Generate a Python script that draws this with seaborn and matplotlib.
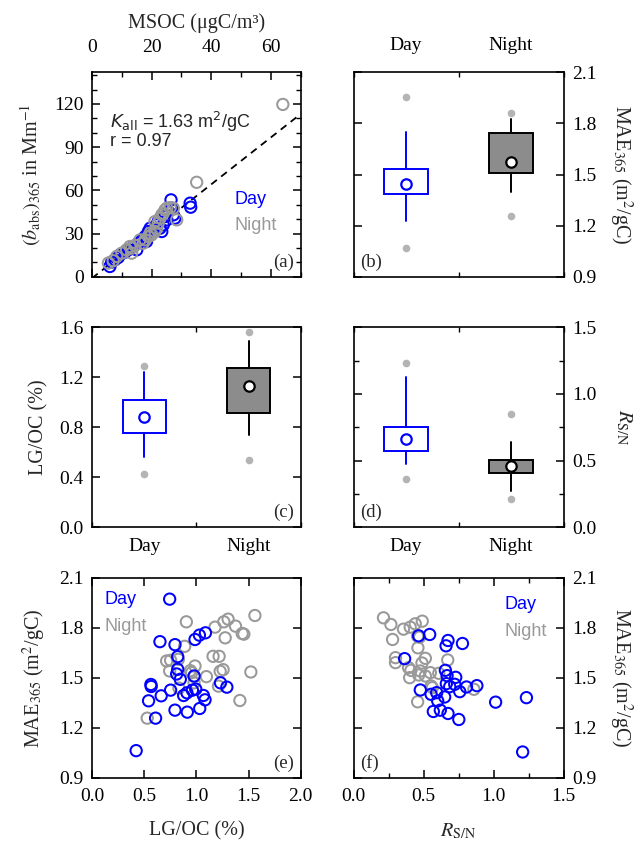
import numpy as np
import pandas as pd
import seaborn as sns
import matplotlib
matplotlib.use('Agg')
from matplotlib import pyplot as plt
from matplotlib.ticker import MultipleLocator, FixedLocator

# ---- data ----
# (a) absorption vs MSOC
day_msoc = [6.0, 6.6, 7.7, 8.8, 9.4, 11.1, 12.2, 13.9, 15.0, 15.5, 16.7, 17.8, 18.3, 18.9, 19.5,
            20.6, 21.7, 22.2, 22.8, 23.4, 23.9, 24.5, 25.1, 25.6, 26.5, 26.7, 27.3, 27.8, 32.9, 33.1]
day_babs = [7.1, 10.2, 11.8, 13.4, 15.2, 17.1, 18.7, 21.0, 18.7, 23.3, 25.6, 27.9, 24.5, 31.4, 33.7,
            32.6, 36.0, 38.3, 33.7, 31.4, 36.0, 41.8, 39.5, 45.3, 53.4, 47.6, 43.0, 40.7, 51.1, 48.3]
night_msoc = [5.5, 7.1, 8.3, 10.0, 11.6, 12.7, 13.3, 13.3, 14.4, 16.1, 17.2, 17.8, 18.9, 19.5, 20.0,
              21.1, 21.1, 21.7, 22.2, 22.8, 23.4, 23.9, 24.5, 25.1, 26.2, 27.3, 28.4, 35.1, 64.0]
night_babs = [9.5, 11.1, 14.1, 16.4, 18.7, 21.0, 19.9, 16.4, 21.7, 25.6, 23.3, 25.6, 27.9, 30.3, 29.1,
              31.4, 38.3, 33.7, 37.2, 40.7, 43.0, 44.1, 46.4, 47.6, 48.0, 47.6, 39.5, 65.6, 119.7]
k_all = 1.63
fit_intercept = -1.0

# (e) MAE vs LG/OC
day_lgoc_e = [0.744, 0.651, 0.795, 0.821, 0.987, 1.029, 1.087, 0.821, 0.811, 0.846, 0.564, 0.567, 0.753,
              0.663, 0.542, 0.878, 0.910, 0.962, 0.994, 0.978, 1.067, 1.083, 1.231, 1.292, 0.609, 0.795,
              0.913, 1.032, 0.423]
day_mae_e = [1.973, 1.718, 1.700, 1.628, 1.731, 1.757, 1.771, 1.552, 1.524, 1.492, 1.461, 1.449, 1.427,
             1.393, 1.363, 1.395, 1.411, 1.427, 1.433, 1.512, 1.395, 1.369, 1.471, 1.445, 1.259, 1.307,
             1.295, 1.317, 1.064]
night_lgoc_e = [0.904, 1.179, 1.263, 1.304, 1.375, 1.439, 1.455, 1.561, 1.276, 0.888, 0.715, 0.753, 0.744,
                0.827, 0.942, 0.955, 0.987, 0.981, 0.978, 1.096, 1.160, 1.218, 1.228, 1.256, 1.212, 1.522,
                1.417, 0.529, 0.833]
night_mae_e = [1.837, 1.805, 1.837, 1.853, 1.811, 1.767, 1.763, 1.875, 1.741, 1.690, 1.602, 1.606, 1.542,
               1.612, 1.544, 1.532, 1.572, 1.508, 1.471, 1.508, 1.630, 1.630, 1.540, 1.550, 1.451, 1.536,
               1.365, 1.259, 1.439]

# (f) MAE vs R_S/N
day_rsn_f = [0.365, 0.465, 0.544, 0.675, 0.661, 0.778, 0.656, 0.668, 0.730, 0.663, 0.687, 0.723, 0.759,
             0.807, 0.881, 0.477, 0.554, 0.594, 0.601, 0.651, 0.570, 0.620, 0.675, 0.752, 1.015, 1.235, 1.208]
day_mae_f = [1.616, 1.753, 1.761, 1.725, 1.693, 1.707, 1.546, 1.514, 1.504, 1.466, 1.448, 1.462, 1.418,
             1.446, 1.454, 1.428, 1.402, 1.412, 1.363, 1.386, 1.299, 1.307, 1.287, 1.251, 1.355, 1.382, 1.056]
night_rsn_f = [0.214, 0.267, 0.279, 0.357, 0.405, 0.441, 0.491, 0.458, 0.472, 0.460, 0.300, 0.300, 0.393,
               0.410, 0.401, 0.477, 0.513, 0.489, 0.549, 0.554, 0.609, 0.673, 0.465, 0.513, 0.458, 0.860, 0.563]
night_mae_f = [1.861, 1.821, 1.731, 1.793, 1.805, 1.825, 1.841, 1.751, 1.745, 1.681, 1.622, 1.592, 1.562,
               1.546, 1.502, 1.542, 1.618, 1.590, 1.532, 1.452, 1.528, 1.608, 1.518, 1.512, 1.357, 1.432, 1.442]

# box statistics (Day, Night): box = q1..q3, whiskers, mean, grey dots = min/max
groups = ['Day', 'Night']
mae_q1, mae_q3 = [1.385, 1.511], [1.532, 1.742]
mae_lo, mae_hi = [1.225, 1.395], [1.752, 1.826]
mae_mean, mae_min, mae_max = [1.444, 1.575], [1.066, 1.258], [1.957, 1.859]
lg_q1, lg_q3 = [0.755, 0.917], [1.016, 1.275]
lg_lo, lg_hi = [0.565, 0.739], [1.240, 1.490]
lg_mean, lg_min, lg_max = [0.880, 1.131], [0.429, 0.536], [1.291, 1.565]
rsn_q1, rsn_q3 = [0.573, 0.404], [0.755, 0.503]
rsn_lo, rsn_hi = [0.473, 0.271], [1.126, 0.640]
rsn_mean, rsn_min, rsn_max = [0.663, 0.461], [0.366, 0.214], [1.236, 0.852]

BLUE = '#0000ff'
GREY = '#999999'
DOT = '#b4b4b4'
NIGHT_FILL = '#8c8c8c'
SERIF = 'Liberation Serif'
SANS = 'Liberation Sans'

sns.set_style('ticks')
plt.rcParams['font.family'] = [SERIF, 'DejaVu Serif']
plt.rcParams['mathtext.fontset'] = 'stix'
plt.rcParams['axes.linewidth'] = 1.2
plt.rcParams['xtick.direction'] = 'in'
plt.rcParams['ytick.direction'] = 'in'
plt.rcParams['xtick.major.size'] = 5.5
plt.rcParams['ytick.major.size'] = 5.5
plt.rcParams['xtick.minor.size'] = 3.5
plt.rcParams['ytick.minor.size'] = 3.5
plt.rcParams['xtick.major.width'] = 1.1
plt.rcParams['ytick.major.width'] = 1.1
plt.rcParams['xtick.minor.width'] = 1.0
plt.rcParams['ytick.minor.width'] = 1.0
plt.rcParams['xtick.major.pad'] = 7
plt.rcParams['ytick.major.pad'] = 6
plt.rcParams['xtick.color'] = 'black'
plt.rcParams['ytick.color'] = 'black'
plt.rcParams['axes.edgecolor'] = 'black'

TICK_FS = 14
LAB_FS = 14.5
LEG_FS = 13

fig = plt.figure(figsize=(6.43, 8.46), dpi=100)
L1, W1 = 0.1431, 0.3246
L2, W2 = 0.5498, 0.3266
ax_a = fig.add_axes([L1, 0.6729, W1, 0.2416])
ax_b = fig.add_axes([L2, 0.6729, W2, 0.2416])
ax_c = fig.add_axes([L1, 0.3767, W1, 0.2364])
ax_d = fig.add_axes([L2, 0.3767, W2, 0.2364])
ax_e = fig.add_axes([L1, 0.0804, W1, 0.2364])
ax_f = fig.add_axes([L2, 0.0804, W2, 0.2364])

for ax in [ax_a, ax_b, ax_c, ax_d, ax_e, ax_f]:
    ax.tick_params(which='both', top=True, right=True, bottom=True, left=True, labelsize=TICK_FS)


def open_scatter(ax, x, y, color):
    sns.scatterplot(x=x, y=y, ax=ax, marker='o', s=66, facecolor='none',
                    edgecolor=color, linewidth=1.45, legend=False, zorder=3)


def day_night_legend(ax, x, y_day, y_night):
    ax.text(x, y_day, 'Day', color=BLUE, family=SANS, fontsize=LEG_FS,
            transform=ax.transAxes, va='center', ha='left')
    ax.text(x, y_night, 'Night', color=GREY, family=SANS, fontsize=LEG_FS,
            transform=ax.transAxes, va='center', ha='left')


def panel_label(ax, text, right):
    if right:
        ax.text(0.97, 0.03, text, transform=ax.transAxes, ha='right', va='bottom', fontsize=13.5)
    else:
        ax.text(0.03, 0.03, text, transform=ax.transAxes, ha='left', va='bottom', fontsize=13.5)


def boxes(ax, q1, q3, lo, hi, mean, vmin, vmax):
    colors = [BLUE, 'black']
    fills = ['white', NIGHT_FILL]
    for i in range(len(groups)):
        st = dict(med=q1[i], q1=q1[i], q3=q3[i], whislo=lo[i], whishi=hi[i],
                  mean=mean[i], fliers=[vmin[i], vmax[i]], label=groups[i])
        ax.bxp([st], positions=[i], widths=0.41, patch_artist=True, showmeans=True,
               showcaps=False, showfliers=True, manage_ticks=False,
               boxprops=dict(facecolor=fills[i], edgecolor=colors[i], linewidth=1.4),
               whiskerprops=dict(color=colors[i], linewidth=1.4),
               medianprops=dict(linewidth=0),
               meanprops=dict(marker='o', markerfacecolor='white', markeredgecolor=colors[i],
                              markersize=7.5, markeredgewidth=1.6),
               flierprops=dict(marker='o', markerfacecolor=DOT, markeredgecolor='none', markersize=5.5))


def cat_axis(ax, labels_top):
    ax.set_xlim(-0.5, 1.5)
    ax.xaxis.set_major_locator(FixedLocator([0, 1]))
    ax.set_xticklabels(groups)
    ax.xaxis.set_minor_locator(FixedLocator([-0.5, 0.5, 1.5]))
    ax.tick_params(axis='x', which='major', length=0, labeltop=labels_top,
                   labelbottom=not labels_top, pad=13 if labels_top else 8)


# ---- (a) ----
open_scatter(ax_a, day_msoc, day_babs, BLUE)
open_scatter(ax_a, night_msoc, night_babs, GREY)
ax_a.set_xlim(0, 70)
ax_a.set_ylim(0, 142)
line_x = np.array(ax_a.get_xlim())
ax_a.plot(line_x, k_all * line_x + fit_intercept, ls=(0, (4, 3)), color='black', lw=1.3, zorder=2)
ax_a.xaxis.set_major_locator(MultipleLocator(20))
ax_a.xaxis.set_minor_locator(MultipleLocator(10))
ax_a.yaxis.set_major_locator(MultipleLocator(30))
ax_a.yaxis.set_minor_locator(MultipleLocator(10))
ax_a.tick_params(axis='x', labeltop=True, labelbottom=False, pad=12)
ax_a.xaxis.set_label_position('top')
ax_a.set_xlabel('MSOC (μgC/m³)', fontsize=LAB_FS, labelpad=8)
ax_a.set_ylabel(r'$(b_{\rm abs})_{365}$ in Mm$^{-1}$', fontsize=LAB_FS, labelpad=8)
ax_a.text(0.086, 0.756, r'$K_{\rm all}$' + ' = %.2f m$^2$/gC' % k_all, transform=ax_a.transAxes,
          family=SANS, math_fontfamily='dejavusans', fontsize=LEG_FS, va='center')
ax_a.text(0.086, 0.663, 'r = 0.97', transform=ax_a.transAxes, family=SANS, fontsize=LEG_FS, va='center')
day_night_legend(ax_a, 0.685, 0.376, 0.251)
panel_label(ax_a, '(a)', True)

# ---- (b) ----
boxes(ax_b, mae_q1, mae_q3, mae_lo, mae_hi, mae_mean, mae_min, mae_max)
cat_axis(ax_b, True)
ax_b.set_ylim(0.9, 2.1)
ax_b.yaxis.set_major_locator(MultipleLocator(0.3))
ax_b.yaxis.set_major_formatter('{x:.1f}')
ax_b.tick_params(axis='y', labelleft=False, labelright=True)
ax_b.yaxis.set_label_position('right')
ax_b.set_ylabel(r'MAE$_{365}$ (m$^2$/gC)', fontsize=LAB_FS, rotation=270, labelpad=27)
panel_label(ax_b, '(b)', False)

# ---- (c) ----
boxes(ax_c, lg_q1, lg_q3, lg_lo, lg_hi, lg_mean, lg_min, lg_max)
cat_axis(ax_c, False)
ax_c.set_ylim(0, 1.6)
ax_c.yaxis.set_major_locator(MultipleLocator(0.4))
ax_c.yaxis.set_major_formatter('{x:.1f}')
ax_c.set_ylabel('LG/OC (%)', fontsize=LAB_FS, labelpad=8)
panel_label(ax_c, '(c)', True)

# ---- (d) ----
boxes(ax_d, rsn_q1, rsn_q3, rsn_lo, rsn_hi, rsn_mean, rsn_min, rsn_max)
cat_axis(ax_d, False)
ax_d.set_ylim(0, 1.5)
ax_d.yaxis.set_major_locator(MultipleLocator(0.5))
ax_d.yaxis.set_minor_locator(MultipleLocator(0.25))
ax_d.yaxis.set_major_formatter('{x:.1f}')
ax_d.tick_params(axis='y', labelleft=False, labelright=True)
ax_d.yaxis.set_label_position('right')
ax_d.set_ylabel(r'$R_{\rm S/N}$', fontsize=LAB_FS, rotation=270, labelpad=27)
panel_label(ax_d, '(d)', False)

# ---- (e) ----
open_scatter(ax_e, night_lgoc_e, night_mae_e, GREY)
open_scatter(ax_e, day_lgoc_e, day_mae_e, BLUE)
ax_e.set_xlim(0, 2.0)
ax_e.set_ylim(0.9, 2.1)
ax_e.xaxis.set_major_locator(MultipleLocator(0.5))
ax_e.yaxis.set_major_locator(MultipleLocator(0.3))
ax_e.xaxis.set_major_formatter('{x:.1f}')
ax_e.yaxis.set_major_formatter('{x:.1f}')
ax_e.set_xlabel('LG/OC (%)', fontsize=LAB_FS, labelpad=12)
ax_e.set_ylabel(r'MAE$_{365}$ (m$^2$/gC)', fontsize=LAB_FS, labelpad=8)
day_night_legend(ax_e, 0.062, 0.894, 0.759)
panel_label(ax_e, '(e)', True)

# ---- (f) ----
open_scatter(ax_f, night_rsn_f, night_mae_f, GREY)
open_scatter(ax_f, day_rsn_f, day_mae_f, BLUE)
ax_f.set_xlim(0, 1.5)
ax_f.set_ylim(0.9, 2.1)
ax_f.xaxis.set_major_locator(MultipleLocator(0.5))
ax_f.xaxis.set_minor_locator(MultipleLocator(0.25))
ax_f.yaxis.set_major_locator(MultipleLocator(0.3))
ax_f.xaxis.set_major_formatter('{x:.1f}')
ax_f.yaxis.set_major_formatter('{x:.1f}')
ax_f.tick_params(axis='y', labelleft=False, labelright=True)
ax_f.yaxis.set_label_position('right')
ax_f.set_ylabel(r'MAE$_{365}$ (m$^2$/gC)', fontsize=LAB_FS, rotation=270, labelpad=27)
ax_f.set_xlabel(r'$R_{\rm S/N}$', fontsize=LAB_FS, labelpad=12)
day_night_legend(ax_f, 0.718, 0.869, 0.734)
panel_label(ax_f, '(f)', False)

for ax in [ax_a, ax_b, ax_c, ax_d, ax_e, ax_f]:
    ax.set_facecolor('white')
    for s in ax.spines.values():
        s.set_zorder(5)

fig.savefig('out.png', dpi=100, facecolor='white')
